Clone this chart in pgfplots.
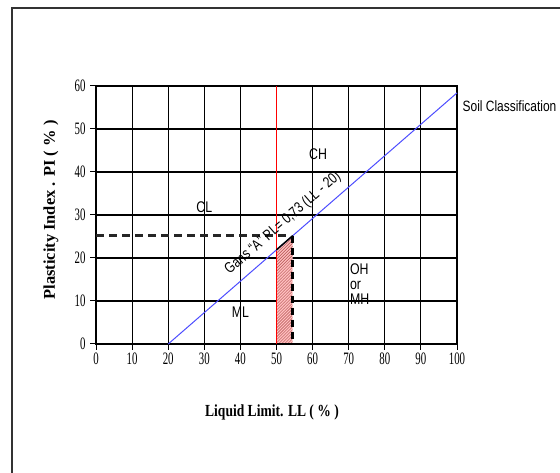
\documentclass[border=0pt]{standalone}
\usepackage{fontspec}
\usepackage{pgfplots}
\pgfplotsset{compat=1.18}
\usetikzlibrary{patterns}
\setmainfont{Liberation Serif}
\newfontfamily\narrowserif[FakeStretch=0.62]{Liberation Serif}
\newfontfamily\narrowsans[FakeStretch=0.8]{Liberation Sans}
\newfontfamily\boldnarrow[FakeStretch=0.8]{Liberation Serif Bold}
\begin{document}
\begin{tikzpicture}
\useasboundingbox (0,0) rectangle (560bp,473bp);
\draw[line width=1.3bp, black!80] (12bp,0) -- (12bp,465bp) -- (560bp,465bp);
\begin{axis}[
  at={(96bp,129bp)}, anchor=south west,
  scale only axis, width=361bp, height=258bp,
  xmin=0, xmax=100, ymin=0, ymax=60,
  xtick={0,10,...,100}, ytick={0,10,...,60},
  grid=major, major grid style={black, line width=1.1bp},
  axis line style={black, line width=1.1bp},
  tick align=outside, major tick length=6bp,
  tick style={black, line width=1bp},
  xtick pos=left, ytick pos=left,
  /pgf/number format/assume math mode=true,
  ticklabel style={font=\narrowserif\fontsize{17.5}{19}\selectfont},
  xticklabel style={yshift=1bp},
  yticklabel style={xshift=-1bp},
  clip=false,
]
% hatched area
\addplot[draw=none, fill=red!25, postaction={pattern=north east lines, pattern color=red!55!black!70}]
  coordinates {(50,0) (50,21.9) (54.5,25.2) (54.5,0)} -- cycle;
% red vertical line
\addplot[red, line width=1.5bp] coordinates {(50,0) (50,60)};
% A-line
\addplot[blue!70!white, line width=1bp] coordinates {(20,0) (100,58.4)};
% top edge of area
\addplot[black, line width=1.5bp] coordinates {(50,21.9) (54.5,25.2)};
\addplot[black, line width=1.2bp] coordinates {(50,0) (54.5,0)};
% dashed lines
\addplot[black!85, line width=2.5bp, dash pattern=on 8bp off 5bp] coordinates {(0,25.2) (53.8,25.2)};
\addplot[black, line width=2.5bp, dash pattern=on 7bp off 5bp] coordinates {(54.5,25.2) (54.5,0)};
% labels
\node[font=\narrowsans\fontsize{15.5}{16}\selectfont] at (axis cs:61.5,44.2) {CH};
\node[font=\narrowsans\fontsize{15.5}{16}\selectfont] at (axis cs:30,31.8) {CL};
\node[font=\narrowsans\fontsize{15.5}{16}\selectfont] at (axis cs:40,7.3) {ML};
\node[font=\narrowsans\fontsize{15.5}{15}\selectfont, align=left, anchor=west] at (axis cs:69.4,14) {OH\\or\\MH};
\node[font=\narrowsans\fontsize{15}{16}\selectfont, anchor=west] at (axis cs:100.6,55.2) {Soil Classification};
\node[font=\narrowsans\fontsize{15}{16}\selectfont, rotate=41] at (axis cs:51.8,28.1) {Gans “A” PL= 0,73 (LL - 20)};
\end{axis}
\node[font=\boldnarrow\fontsize{17}{19}\selectfont] at (272bp,61bp) {Liquid Limit. LL ( \% )};
\node[font=\bfseries\fontsize{16.5}{18}\selectfont, rotate=90] at (51bp,263bp) {Plasticity Index . PI ( \% )};
\end{tikzpicture}
\end{document}
